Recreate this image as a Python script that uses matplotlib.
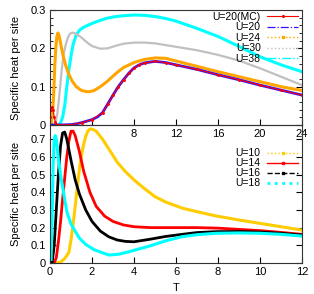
import numpy as np
import matplotlib
matplotlib.use('Agg')
import matplotlib.pyplot as plt
from matplotlib.lines import Line2D

plt.rcParams['font.family'] = ['Liberation Sans', 'DejaVu Sans']

# ---- top panel data (T from 0 to 24) ----
t_u38 = [0, 0.8, 1.0, 1.2, 1.4, 1.6, 1.8, 2.0, 2.2, 2.5, 2.8, 3.2, 3.6, 4.0, 4.5, 5.0, 5.5, 6.3,
         7.0, 8.0, 9.0, 10.0, 11.0, 12.0, 14.0, 16.0, 18.0, 20.0, 22.0, 24.0]
c_u38 = [0, 0.0, 0.005, 0.02, 0.05, 0.10, 0.145, 0.18, 0.21, 0.235, 0.247, 0.255, 0.26, 0.265,
         0.27, 0.275, 0.279, 0.283, 0.285, 0.287, 0.286, 0.283, 0.278, 0.271, 0.252, 0.231,
         0.205, 0.178, 0.157, 0.139]

t_u30 = [0, 0.5, 0.7, 0.9, 1.1, 1.3, 1.5, 1.7, 1.9, 2.1, 2.3, 2.6, 3.0, 3.5, 4.0, 4.8, 5.5, 6.3,
         7.0, 8.0, 9.0, 10.0, 12.0, 14.0, 16.0, 18.0, 20.0, 22.0, 24.0]
c_u30 = [0, 0, 0.03, 0.08, 0.14, 0.185, 0.21, 0.228, 0.238, 0.241, 0.24, 0.236, 0.228, 0.216,
         0.206, 0.199, 0.2, 0.207, 0.212, 0.215, 0.215, 0.213, 0.204, 0.195, 0.183, 0.168,
         0.148, 0.126, 0.104]

t_u24 = [0, 0.1, 0.25, 0.35, 0.45, 0.55, 0.65, 0.75, 0.85, 0.95, 1.1, 1.3, 1.5, 1.8, 2.1, 2.5,
         3.0, 3.5, 3.8, 4.2, 4.8, 5.5, 6.3, 7.0, 8.0, 9.0, 10.0, 11.0, 12.0, 14.0, 16.0, 18.0,
         20.0, 22.0, 24.0]
c_u24 = [0.01, 0.0, 0.03, 0.08, 0.15, 0.20, 0.23, 0.24, 0.235, 0.222, 0.2, 0.175, 0.155, 0.132,
         0.115, 0.1, 0.09, 0.087, 0.087, 0.09, 0.1, 0.115, 0.135, 0.15, 0.163, 0.171, 0.175,
         0.174, 0.167, 0.153, 0.139, 0.126, 0.113, 0.1, 0.09]

t_u20 = [0, 1.0, 2.0, 2.5, 3.0, 3.5, 4.0, 4.5, 5.0, 5.5, 6.0, 6.5, 7.0, 7.5, 8.0, 8.5, 9.0, 10.0,
         11.0, 12.0, 14.0, 16.0, 18.0, 20.0, 22.0, 24.0]
c_u20 = [0, 0, 0.001, 0.003, 0.006, 0.01, 0.014, 0.021, 0.032, 0.055, 0.078, 0.1, 0.118, 0.135,
         0.149, 0.157, 0.162, 0.166, 0.163, 0.157, 0.145, 0.131, 0.118, 0.104, 0.091, 0.078]

t_mc = [0, 0.1, 0.2, 0.3, 0.4, 0.5, 0.6, 0.8, 1.0, 2.0, 3.0, 4.0, 5.0, 5.5, 6.0, 6.5, 7.0, 7.5,
        8.0, 8.5, 9.0, 10.0, 11.0, 12.0, 14.0, 16.0, 18.0, 20.0, 22.0, 24.0]
c_mc = [0.02, 0.04, 0.048, 0.04, 0.02, 0.008, 0.002, 0.0, 0.0, 0.001, 0.006, 0.014, 0.032, 0.055,
        0.078, 0.1, 0.118, 0.135, 0.149, 0.157, 0.162, 0.166, 0.163, 0.157, 0.145, 0.131,
        0.118, 0.104, 0.091, 0.078]

# ---- bottom panel data (T from 0 to 12) ----
t_u18 = [0.05, 0.1, 0.15, 0.2, 0.25, 0.3, 0.4, 0.5, 0.6, 0.8, 1.0, 1.4, 1.7, 2.1, 2.8, 3.3,
         3.8, 4.8, 5.5, 6.3, 7.0, 7.9, 9.0, 10.0, 11.0, 12.0]
c_u18 = [0.02, 0.25, 0.55, 0.70, 0.72, 0.70, 0.59, 0.50, 0.43, 0.29, 0.22, 0.14, 0.105, 0.075,
         0.045, 0.05, 0.065, 0.098, 0.125, 0.149, 0.16, 0.168, 0.17, 0.168, 0.162, 0.152]

t_u16 = [0.1, 0.2, 0.3, 0.4, 0.5, 0.6, 0.7, 0.8, 0.9, 1.0, 1.2, 1.4, 1.7, 2.0, 2.4, 2.8, 3.2,
         3.6, 4.0, 4.8, 5.5, 6.3, 7.0, 7.9, 9.0, 10.0, 11.0, 12.0]
c_u16 = [0.0, 0.1, 0.3, 0.5, 0.66, 0.735, 0.74, 0.70, 0.64, 0.58, 0.47, 0.39, 0.30, 0.235, 0.18,
         0.148, 0.13, 0.122, 0.12, 0.135, 0.15, 0.162, 0.172, 0.177, 0.178, 0.175, 0.168, 0.158]

t_u14 = [0.2, 0.3, 0.4, 0.5, 0.6, 0.7, 0.8, 0.9, 1.0, 1.1, 1.2, 1.4, 1.6, 1.9, 2.2, 2.6, 3.0,
         3.5, 4.0, 4.8, 6.0, 7.0, 8.0, 9.0, 10.0, 11.0, 12.0]
c_u14 = [0.0, 0.03, 0.12, 0.23, 0.36, 0.48, 0.60, 0.69, 0.745, 0.745, 0.72, 0.63, 0.52, 0.40,
         0.32, 0.265, 0.235, 0.215, 0.205, 0.2, 0.2, 0.2, 0.197, 0.19, 0.183, 0.173, 0.162]

t_u10 = [0.3, 0.5, 0.7, 0.9, 1.0, 1.1, 1.2, 1.3, 1.4, 1.5, 1.6, 1.7, 1.8, 1.9, 2.0, 2.2, 2.5,
         2.8, 3.2, 3.6, 4.0, 4.5, 5.0, 5.5, 6.3, 7.0, 7.9, 9.0, 10.0, 11.0, 12.0]
c_u10 = [0.0, 0.005, 0.025, 0.06, 0.13, 0.22, 0.32, 0.43, 0.53, 0.61, 0.67, 0.715, 0.745, 0.757,
         0.757, 0.745, 0.70, 0.645, 0.57, 0.515, 0.47, 0.42, 0.375, 0.345, 0.31, 0.29, 0.266,
         0.243, 0.224, 0.205, 0.186]

top_labels = ['U=20(MC)', 'U=20', 'U=24', 'U=30', 'U=38']
bot_labels = ['U=10', 'U=14', 'U=16', 'U=18']

W, H = 314, 294
fig = plt.figure(figsize=(W / 100, H / 100), dpi=100)
left, right = 50 / W, 302 / W
ax1 = fig.add_axes([left, 1 - 125 / H, right - left, 115 / H])
ax2 = fig.add_axes([left, 1 - 263 / H, right - left, 138 / H])
ax2.patch.set_visible(False)

# top panel curves
ax1.plot(t_u38, c_u38, color='#00ffff', lw=2.2)
ax1.plot(t_u30, c_u30, color='#c0c0c0', lw=1.6)
ax1.plot(t_u24, c_u24, color='#ffa500', lw=2.2)
ax1.plot(t_u20, c_u20, color='#3010ff', lw=2.0)
ax1.plot(t_mc, c_mc, color='#ff0000', lw=0.8, marker='.', ms=2.2)

ax1.set_xlim(0, 24)
ax1.set_ylim(0, 0.3)
ax1.set_xticks([4, 8, 12, 16, 20, 24])
ax1.set_xticklabels(['', '8', '12', '16', '20', '24'])
ax1.set_yticks([0, 0.1, 0.2, 0.3])
ax1.set_yticklabels(['0', '0.1', '0.2', '0.3'])
ax1.set_yticks(np.arange(0, 0.301, 0.02), minor=True)
ax1.tick_params(direction='in', right=True, labelsize=8, pad=3, length=4, width=0.8)
ax1.tick_params(which='minor', direction='in', right=True, length=2, width=0.6)
ax1.set_ylabel('Specific heat per site', fontsize=8, labelpad=7)

top_handles = [
    Line2D([], [], color='#ff0000', lw=0.8, marker='.', ms=2.5, markevery=[1]),
    Line2D([], [], color='#3010ff', lw=0.9, ls='-.'),
    Line2D([], [], color='#ffa500', lw=1.0, ls=':', marker='s', ms=2, markevery=[1]),
    Line2D([], [], color='#c0c0c0', lw=1.0, ls=':'),
    Line2D([], [], color='#00ffff', lw=1.0, ls='-.'),
]
ax1.legend(top_handles, top_labels, loc='upper right', bbox_to_anchor=(0.985, 0.985),
           frameon=False, markerfirst=False, fontsize=7.5, handlelength=3.0,
           handletextpad=0.6, labelspacing=0.05, borderpad=0, borderaxespad=0)

# bottom panel curves
ax2.plot(t_u10, c_u10, color='#ffcc00', lw=2.2)
ax2.plot(t_u14, c_u14, color='#ff0000', lw=2.0)
ax2.plot(t_u16, c_u16, color='#000000', lw=2.0)
ax2.plot(t_u18, c_u18, color='#00ffff', lw=2.2)

ax2.set_xlim(0, 12)
ax2.set_ylim(0, 0.78)
ax2.set_xticks([0, 2, 4, 6, 8, 10, 12])
ax2.set_yticks([0, 0.1, 0.2, 0.3, 0.4, 0.5, 0.6, 0.7])
ax2.set_yticklabels(['0', '0.1', '0.2', '0.3', '0.4', '0.5', '0.6', '0.7'])
ax2.tick_params(direction='in', right=True, labelsize=8, pad=3, length=4, width=0.8)
ax2.set_ylabel('Specific heat per site', fontsize=8, labelpad=7)
ax2.set_xlabel('T', fontsize=8, labelpad=4)

bot_handles = [
    Line2D([], [], color='#ffcc00', lw=1.0, ls=':', marker='s', ms=2, markevery=[1]),
    Line2D([], [], color='#ff0000', lw=1.0, marker='s', ms=2, markevery=[1]),
    Line2D([], [], color='#000000', lw=1.0, ls='--', marker='s', ms=2, markevery=[1]),
    Line2D([], [], color='#00ffff', lw=2.0, ls=':'),
]
ax2.legend(bot_handles, bot_labels, loc='upper right', bbox_to_anchor=(0.985, 0.83),
           frameon=False, markerfirst=False, fontsize=7.5, handlelength=3.0,
           handletextpad=0.6, labelspacing=0.0, borderpad=0, borderaxespad=0)

for ax in (ax1, ax2):
    for s in ax.spines.values():
        s.set_linewidth(0.8)
        s.set_color('#333333')

fig.savefig('out.png', dpi=100)
